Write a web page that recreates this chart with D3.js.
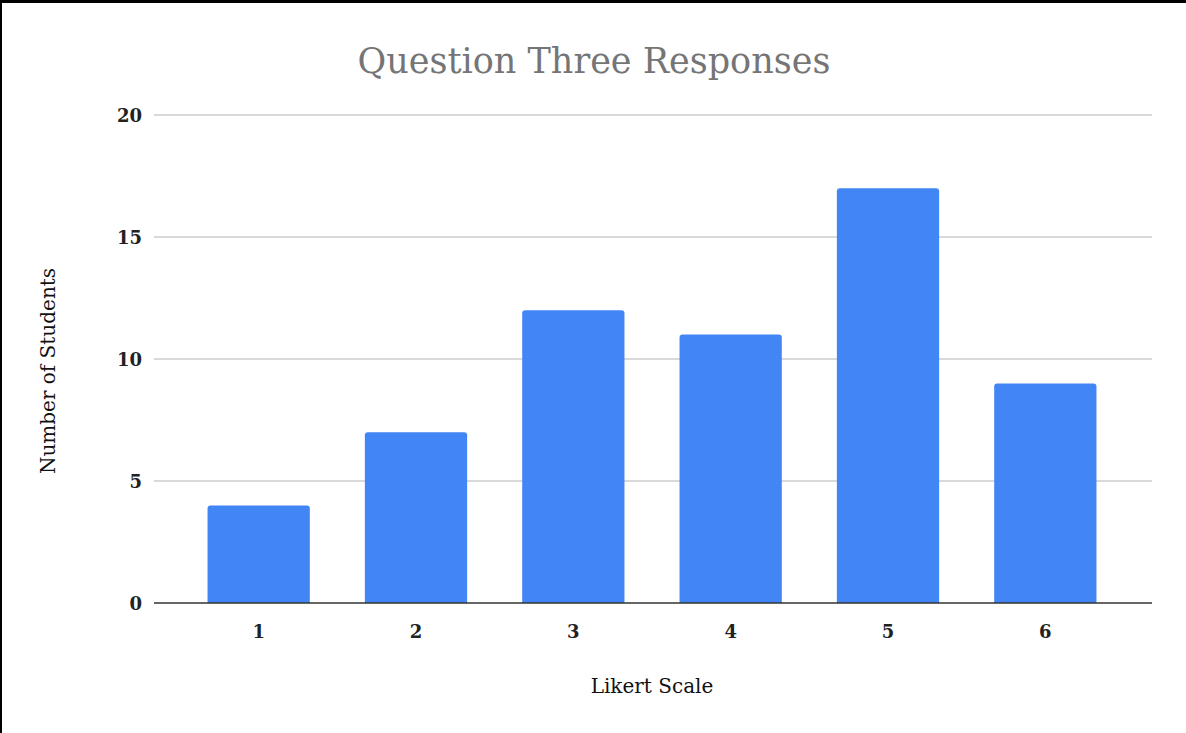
<!DOCTYPE html>
<html>
<head>
<meta charset="utf-8">
<script src="https://cdn.jsdelivr.net/npm/d3@7"></script>
<style>
  html, body { margin: 0; padding: 0; background: #fff; }
  svg { display: block; }
  .serif { font-family: "DejaVu Serif", "Liberation Serif", serif; }
</style>
</head>
<body>
<svg id="chart" width="1186" height="733"></svg>
<script>
// Responses per point on the Likert scale
const categories = ["1", "2", "3", "4", "5", "6"];
const counts = [4, 7, 12, 11, 17, 9];
const yTicks = [0, 5, 10, 15, 20];

const title = "Question Three Responses";
const xTitle = "Likert Scale";
const yTitle = "Number of Students";

const W = 1186, H = 733;
const svg = d3.select("#chart");

// page frame (top and left edges)
svg.append("rect").attr("x", 0).attr("y", 0).attr("width", W).attr("height", 3).attr("fill", "#000");
svg.append("rect").attr("x", 0).attr("y", 0).attr("width", 2).attr("height", H).attr("fill", "#000");

const gridLeft = 154, gridRight = 1152;
const x = d3.scaleBand().domain(categories).range([180, 1124])
  .paddingInner(0.35).paddingOuter(0.175);
const y = d3.scaleLinear().domain([0, 20]).range([603, 115]);

// horizontal gridlines
svg.append("g").selectAll("line").data(yTicks.filter(d => d !== 0)).join("line")
  .attr("x1", gridLeft).attr("x2", gridRight)
  .attr("y1", d => y(d)).attr("y2", d => y(d))
  .attr("stroke", "#cccccc").attr("stroke-width", 1.5);

// y tick labels
svg.append("g").selectAll("text").data(yTicks).join("text")
  .attr("class", "serif")
  .attr("x", 142).attr("y", d => y(d) + 7)
  .attr("text-anchor", "end")
  .attr("font-size", 18).attr("font-weight", "bold").attr("fill", "#222")
  .text(d => d);

// bars with slightly rounded tops
svg.append("g").selectAll("path").data(counts).join("path")
  .attr("fill", "#4285f4")
  .attr("d", (d, i) => {
    const x0 = x(categories[i]), w = x.bandwidth();
    const top = y(d), base = y(0), r = 3;
    return `M${x0},${base}V${top + r}Q${x0},${top} ${x0 + r},${top}H${x0 + w - r}Q${x0 + w},${top} ${x0 + w},${top + r}V${base}Z`;
  });

// baseline
svg.append("line")
  .attr("x1", gridLeft).attr("x2", gridRight)
  .attr("y1", y(0)).attr("y2", y(0))
  .attr("stroke", "#333").attr("stroke-width", 1.5);

// x tick labels
svg.append("g").selectAll("text").data(categories).join("text")
  .attr("class", "serif")
  .attr("x", d => x(d) + x.bandwidth() / 2).attr("y", 638)
  .attr("text-anchor", "middle")
  .attr("font-size", 18).attr("font-weight", "bold").attr("fill", "#222")
  .text(d => d);

// title
svg.append("text").attr("class", "serif")
  .attr("x", 594).attr("y", 73).attr("text-anchor", "middle")
  .attr("font-size", 35).attr("fill", "#757575")
  .text(title);

// x axis title
svg.append("text").attr("class", "serif")
  .attr("x", 652).attr("y", 693).attr("text-anchor", "middle")
  .attr("font-size", 20).attr("fill", "#111")
  .text(xTitle);

// y axis title
svg.append("text").attr("class", "serif")
  .attr("transform", "translate(55,371) rotate(-90)")
  .attr("text-anchor", "middle")
  .attr("font-size", 20).attr("fill", "#111")
  .text(yTitle);
</script>
</body>
</html>
